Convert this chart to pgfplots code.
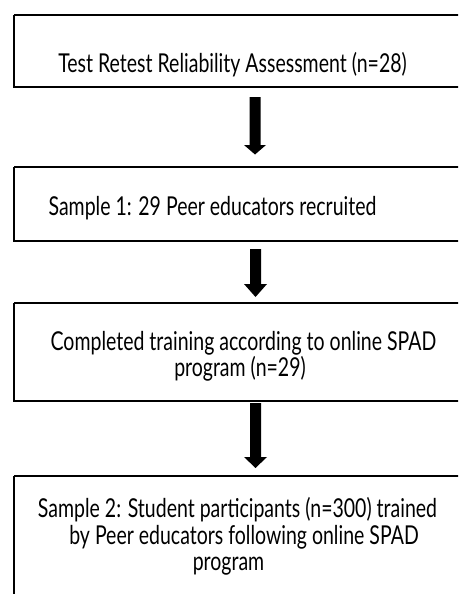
\documentclass[border=0pt]{standalone}
\usepackage{pgfplots}
\pgfplotsset{compat=1.18}
\usepackage{fontspec}
\setmainfont{Lato}[FakeStretch=0.75]
\begin{document}
\begin{tikzpicture}
\begin{axis}[width=229pt,height=297pt,scale only axis,
  xmin=0,xmax=458,ymin=0,ymax=594,y dir=reverse,hide axis,
  clip=true]
\addplot[draw=none,fill=white] coordinates {(0,0) (458,0) (458,594) (0,594)} --cycle;
% boxes
\addplot[black,line width=1pt] coordinates {(14,15) (475,15) (475,87) (14,87) (14,15)};
\addplot[black,line width=1pt] coordinates {(14,167) (475,167) (475,241) (14,241) (14,167)};
\addplot[black,line width=1pt] coordinates {(14,303) (475,303) (475,401) (14,401) (14,303)};
\addplot[black,line width=1pt] coordinates {(14,476) (475,476) (475,620) (14,620) (14,476)};
% arrows
\addplot[fill=black,draw=none] coordinates {(249.5,97) (260.5,97) (260.5,145) (266,145) (255,154.5) (244,145) (249.5,145)} --cycle;
\addplot[fill=black,draw=none] coordinates {(250,249) (261,249) (261,284) (267,284) (255.5,297) (244,284) (250,284)} --cycle;
\addplot[fill=black,draw=none] coordinates {(250,403) (261,403) (261,457) (267,457) (255.5,468) (244,457) (250,457)} --cycle;
% texts
\node[anchor=base,inner sep=0pt,font=\fontsize{13}{15}\selectfont] at (axis cs:232.5,72) {Test Retest Reliability Assessment (n=28)};
\node[anchor=base,inner sep=0pt,font=\fontsize{13}{15}\selectfont] at (axis cs:212.5,215) {Sample 1: 29 Peer educators recruited};
\node[anchor=base,inner sep=0pt,font=\fontsize{13}{15}\selectfont] at (axis cs:243.5,350) {Completed training according to online SPAD};
\node[anchor=base,inner sep=0pt,font=\fontsize{13}{15}\selectfont] at (axis cs:240,376) {program (n=29)};
\node[anchor=base,inner sep=0pt,font=\fontsize{13}{15}\selectfont] at (axis cs:237.5,517) {Sample 2: Student participants (n=300) trained};
\node[anchor=base,inner sep=0pt,font=\fontsize{13}{15}\selectfont] at (axis cs:244,544) {by Peer educators following online SPAD};
\node[anchor=base,inner sep=0pt,font=\fontsize{13}{15}\selectfont] at (axis cs:228.5,570) {program};
\end{axis}
\end{tikzpicture}
\end{document}
